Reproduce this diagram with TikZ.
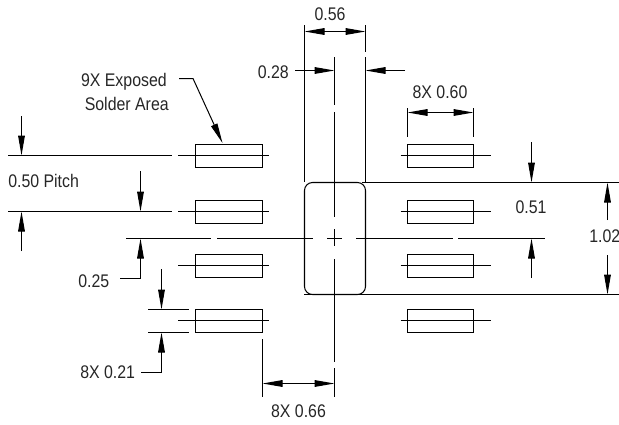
\documentclass[tikz,border=0pt]{standalone}
\usepackage{fontspec}
\setmainfont[FakeStretch=0.87]{Liberation Sans}
\usetikzlibrary{arrows.meta}
\tikzset{
  ln/.style={line width=0.75pt,black},
  dim/.style={line width=0.75pt,black,-{Triangle[length=15pt,width=5pt]}},
  lbl/.style={font=\fontsize{13.7}{15}\selectfont,text=black!85,inner sep=0pt},
  padbox/.style={draw,line width=0.8pt,fill=none}
}
\begin{document}
\begin{tikzpicture}[x=0.75pt,y=-0.75pt]
\useasboundingbox (0,0) rectangle (619,425);
% pads
\foreach \n/\cy in {a/155.5,b/211.5,c/265.5,d/320.5}{
  \draw[padbox] (195.5,\cy-11) rectangle (262.5,\cy+12);
  \draw[padbox] (407.5,\cy-11) rectangle (473.5,\cy+12);
  \draw[ln] (178,\cy) -- (269,\cy);
  \draw[ln] (400.7,\cy) -- (491,\cy);
}
% centre pad
\draw[line width=0.8pt,rounded corners=6pt] (304.5,182.5) rectangle (365.5,294.5);
% extension lines
\draw[ln] (304.5,25) -- (304.5,182);
\draw[ln] (365.5,25) -- (365.5,52);
\draw[ln] (365.5,57) -- (365.5,182);
\draw[ln] (8,155.5) -- (172,155.5);
\draw[ln] (8,211.5) -- (172,211.5);
\draw[ln] (362,182.5) -- (619,182.5);
\draw[ln] (304,294.5) -- (619,294.5);
% centre lines
\draw[ln] (126,238.5) -- (211,238.5);
\draw[ln] (217,238.5) -- (313,238.5);
\draw[ln] (327,238.5) -- (342,238.5);
\draw[ln] (356,238.5) -- (453,238.5);
\draw[ln] (458,238.5) -- (545,238.5);
\draw[ln] (334.5,57) -- (334.5,105);
\draw[ln] (334.5,112) -- (334.5,217);
\draw[ln] (334.5,229) -- (334.5,246);
\draw[ln] (334.5,259) -- (334.5,362);
\draw[ln] (334.5,368) -- (334.5,397);
% dims
\coordinate (m56) at (334.7,31.5);
\draw[dim] (m56) -- (304.5,31.5);
\draw[dim] (m56) -- (365.5,31.5);
\draw[dim] (295,70.5) -- (334.5,70.5);
\draw[dim] (405,70.5) -- (365.5,70.5);
\draw[ln] (407.5,108) -- (407.5,137);
\draw[ln] (473.5,108) -- (473.5,137);
\coordinate (m60) at (440.3,112.5);
\draw[dim] (m60) -- (407.5,112.5);
\draw[dim] (m60) -- (473.5,112.5);
\draw[dim] (21.5,116) -- (21.5,155.5);
\draw[dim] (21.5,251) -- (21.5,211.5);
\draw[dim] (140.5,171) -- (140.5,211.5);
\draw[dim] (120,278) -- (140.5,278) -- (140.5,238.5);
\draw[ln] (148,309.5) -- (189,309.5);
\draw[ln] (148,332.5) -- (189,332.5);
\draw[dim] (161.5,269) -- (161.5,309.5);
\draw[dim] (141,372) -- (161.5,372) -- (161.5,332.5);
\draw[ln] (262.5,339) -- (262.5,397);
\coordinate (m66) at (298,383.5);
\draw[dim] (m66) -- (262.5,383.5);
\draw[dim] (m66) -- (334.5,383.5);
\draw[dim] (531.5,142) -- (531.5,182.5);
\draw[dim] (531.5,278) -- (531.5,238.5);
\draw[dim] (607.5,220) -- (607.5,182.5);
\draw[dim] (607.5,255) -- (607.5,294.5);
\draw[dim] (179,78.5) -- (193,78.5) -- (222.5,143);
% labels
\node[lbl,anchor=east] (t1) at (167,82) {9X Exposed};
\node[lbl,anchor=east] (t2) at (169,104) {Solder Area};
\node[lbl,anchor=east] (t3) at (289,72) {0.28};
\node[lbl] (t4) at (330,14) {0.56};
\node[lbl] (t5) at (440,92) {8X 0.60};
\node[lbl] (t6) at (531,207) {0.51};
\begin{scope}
\clip (0,0) rectangle (619,425);
\node[lbl,anchor=west] (t7) at (589,236) {1.02};
\end{scope}
\node[lbl,anchor=west] (t8) at (8,181) {0.50 Pitch};
\node[lbl,anchor=west] (t9) at (78,281) {0.25};
\node[lbl,anchor=west] (t10) at (80,372) {8X 0.21};
\node[lbl] (t11) at (298.5,411) {8X 0.66};
\end{tikzpicture}
\end{document}
